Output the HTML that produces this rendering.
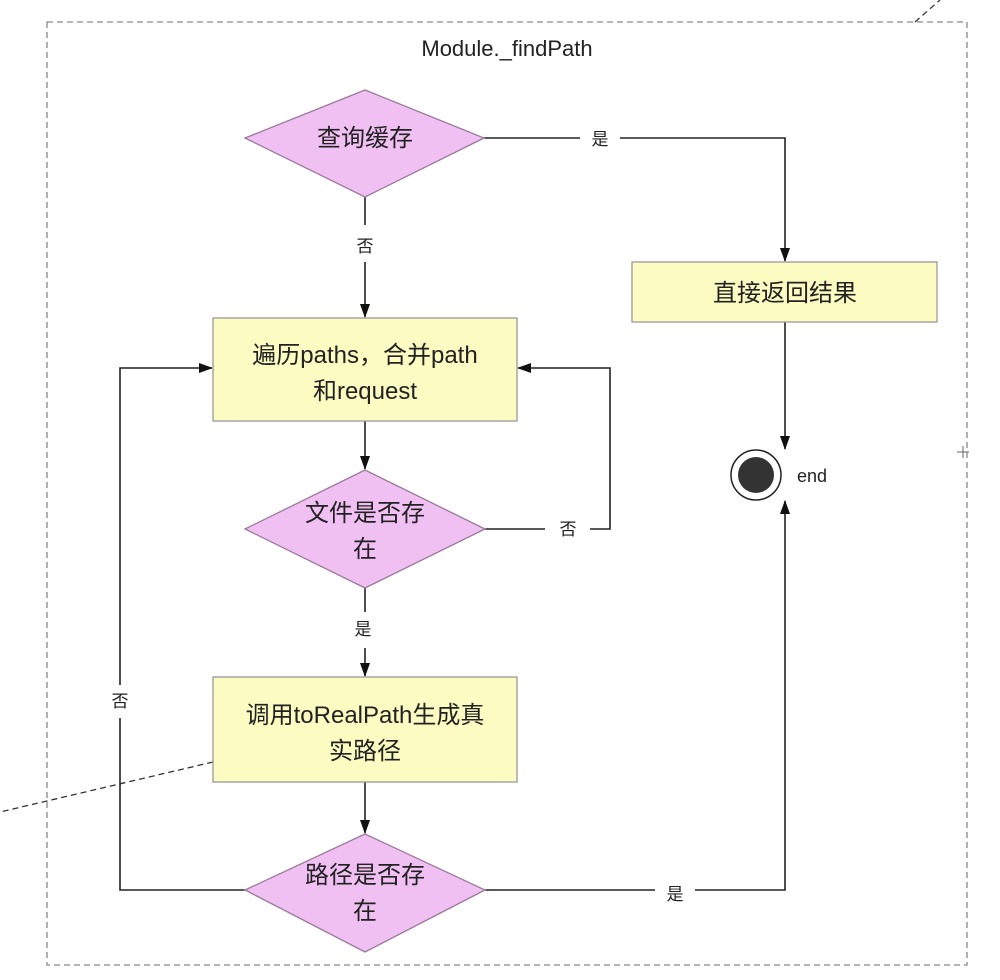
<!DOCTYPE html>
<html><head><meta charset="utf-8"><style>
body{margin:0;background:#fff;}
svg{display:block;}
text{font-family:"Liberation Sans","Noto Sans CJK SC",sans-serif;fill:#222;}
</style></head><body>
<svg width="1000" height="980" viewBox="0 0 1000 980">
<defs><marker id="a" markerWidth="14" markerHeight="10" refX="13" refY="5" orient="auto" markerUnits="userSpaceOnUse"><path d="M0,0 L14,5 L0,10 z" fill="#111"/></marker></defs>
<rect x="47" y="22" width="920" height="943" fill="none" stroke="#888" stroke-width="1.3" stroke-dasharray="6,4"/>
<line x1="915" y1="22" x2="940" y2="0" stroke="#333" stroke-width="1.3" stroke-dasharray="6,4"/>
<line x1="213" y1="762" x2="0" y2="812" stroke="#333" stroke-width="1.3" stroke-dasharray="6,4"/>
<line x1="957" y1="452" x2="969" y2="452" stroke="#666"/><line x1="963" y1="446" x2="963" y2="458" stroke="#666"/>
<text x="507" y="56" font-size="22" text-anchor="middle">Module._findPath</text>
<g stroke="#222" stroke-width="1.6" fill="none">
<polyline points="484,138 580,138"/><polyline points="620,138 785,138 785,261" marker-end="url(#a)"/>
<line x1="365" y1="197" x2="365" y2="225"/><line x1="365" y1="262" x2="365" y2="317" marker-end="url(#a)"/>
<line x1="785" y1="322" x2="785" y2="449" marker-end="url(#a)"/>
<line x1="365" y1="421" x2="365" y2="469" marker-end="url(#a)"/>
<polyline points="485,529 545,529"/><polyline points="590,529 610,529 610,368 518,368" marker-end="url(#a)"/>
<line x1="365" y1="588" x2="365" y2="612"/><line x1="365" y1="648" x2="365" y2="676" marker-end="url(#a)"/>
<line x1="365" y1="782" x2="365" y2="833" marker-end="url(#a)"/>
<polyline points="245,890 120,890 120,718"/><polyline points="120,685 120,368 212,368" marker-end="url(#a)"/>
<polyline points="485,890 655,890"/><polyline points="695,890 785,890 785,501" marker-end="url(#a)"/>
</g>
<polygon points="245,138 365,90 484,138 365,197" fill="#f0c0f3" stroke="#9a7a9a" stroke-width="1.3"/>
<polygon points="245,529 365,470 485,529 365,588" fill="#f0c0f3" stroke="#9a7a9a" stroke-width="1.3"/>
<polygon points="245,890 365,834 485,890 365,952" fill="#f0c0f3" stroke="#9a7a9a" stroke-width="1.3"/>
<rect x="632" y="262" width="305" height="60" fill="#fbfbc2" stroke="#999" stroke-width="1.3"/>
<rect x="213" y="318" width="304" height="103" fill="#fbfbc2" stroke="#999" stroke-width="1.3"/>
<rect x="213" y="677" width="304" height="105" fill="#fbfbc2" stroke="#999" stroke-width="1.3"/>
<circle cx="756" cy="475" r="25" fill="#fff" stroke="#222" stroke-width="1.5"/>
<circle cx="756" cy="475" r="18" fill="#333"/>
<text x="797" y="482" font-size="18">end</text>
<g font-size="24" text-anchor="middle">
<text x="365" y="146">查询缓存</text>
<text x="785" y="301">直接返回结果</text>
<text x="365" y="363">遍历paths，合并path</text>
<text x="365" y="399">和request</text>
<text x="365" y="521">文件是否存</text>
<text x="365" y="557">在</text>
<text x="365" y="723">调用toRealPath生成真</text>
<text x="365" y="759">实路径</text>
<text x="365" y="883">路径是否存</text>
<text x="365" y="919">在</text>
</g>
<g font-size="17" text-anchor="middle">
<text x="600" y="145">是</text>
<text x="365" y="252">否</text>
<text x="568" y="535">否</text>
<text x="363" y="635">是</text>
<text x="120" y="707">否</text>
<text x="675" y="900">是</text>
</g>
</svg>
</body></html>
